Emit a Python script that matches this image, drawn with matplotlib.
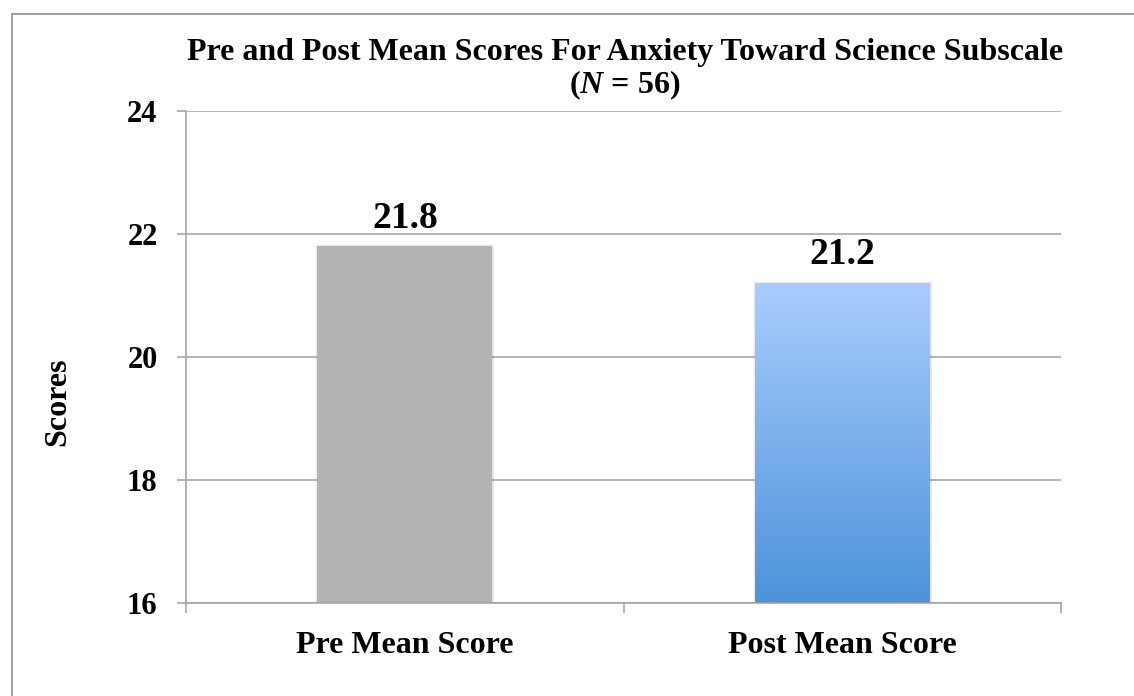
import numpy as np
import matplotlib
matplotlib.use("Agg")
import matplotlib.pyplot as plt
from matplotlib.lines import Line2D
from matplotlib.colors import LinearSegmentedColormap

plt.rcParams['font.family'] = ['Liberation Serif', 'DejaVu Serif']
plt.rcParams['font.weight'] = 'bold'
plt.rcParams['mathtext.fontset'] = 'custom'
plt.rcParams['mathtext.it'] = 'Liberation Serif:italic:bold'
plt.rcParams['mathtext.rm'] = 'Liberation Serif:bold'

# data
categories = ['Pre Mean Score', 'Post Mean Score']
scores = [21.8, 21.2]
y_ticks = [16, 18, 20, 22, 24]
title_line1 = 'Pre and Post Mean Scores For Anxiety Toward Science Subscale'
title_line2 = '($N$ = 56)'

W, H = 1134, 696
fig = plt.figure(figsize=(W / 100, H / 100), dpi=100)

def fx(px):
    return px / W

def fy(py):
    return 1 - py / H

grid_col = '#a0a0a0'

# outer frame (top + left visible)
fig.add_artist(Line2D([fx(12), 1], [fy(14), fy(14)], transform=fig.transFigure,
                      color=grid_col, lw=1.4))
fig.add_artist(Line2D([fx(12), fx(12)], [fy(14), 0], transform=fig.transFigure,
                      color=grid_col, lw=1.4))

ax = fig.add_axes([fx(186), fy(603), fx(1061) - fx(186), fy(111) - fy(603)])
ax.set_xlim(-0.5, 1.5)
ax.set_ylim(16, 24)

x = np.arange(len(categories))
bars = ax.bar(x, [s - 16 for s in scores], bottom=16, width=0.4, zorder=3)

# gray bar solid, blue bar with vertical gradient
bars[0].set_facecolor('#b3b3b3')
bars[0].set_edgecolor('none')
blue = LinearSegmentedColormap.from_list('b', ['#4c93da', '#a9cdfd'])
b = bars[1]
b.set_facecolor('none')
b.set_edgecolor('none')
grad = np.linspace(0, 1, 256).reshape(-1, 1)
im = ax.imshow(grad, cmap=blue, origin='lower', aspect='auto', zorder=3,
               extent=[b.get_x(), b.get_x() + b.get_width(), 16, 16 + b.get_height()])
im.set_clip_path(b)
ax.set_xlim(-0.5, 1.5)
ax.set_ylim(16, 24)

# faint shadow around the bars
for r in bars:
    for k, a in [(3, 0.03), (2, 0.04), (1, 0.05)]:
        ax.bar(r.get_x() + r.get_width() / 2, r.get_height(), bottom=16,
               width=r.get_width(), color='none', edgecolor='black',
               linewidth=k, alpha=a, zorder=2.5)

for xi, s in zip(x, scores):
    ax.annotate(f'{s:.1f}', (xi, s), xytext=(0, 13.5), textcoords='offset points',
                ha='center', va='baseline', fontsize=27, fontweight='bold', zorder=4)

ax.yaxis.grid(True, color=grid_col, lw=1.1, zorder=0)
ax.set_axisbelow(True)
for side in ['top', 'right']:
    ax.spines[side].set_visible(False)
for side in ['left', 'bottom']:
    ax.spines[side].set_color(grid_col)
    ax.spines[side].set_linewidth(1.1)
    ax.spines[side].set_zorder(4)

ax.set_yticks(y_ticks)
ax.set_yticklabels([str(t) for t in y_ticks])
ax.tick_params(axis='y', length=6.5, width=1.1, color=grid_col, pad=14, labelsize=22)

ax.set_xticks(x)
ax.set_xticklabels(categories)
ax.set_xticks([-0.5, 0.5, 1.5], minor=True)
ax.tick_params(axis='x', which='major', length=0, pad=20, labelsize=23)
ax.tick_params(axis='x', which='minor', length=7.2, width=1.1, color=grid_col)

fig.text(fx(58), fy(402), 'Scores', rotation=90, ha='center', va='center',
         fontsize=23, fontweight='bold')

fig.text(fx(625), fy(60), title_line1, ha='center', va='baseline',
         fontsize=23, fontweight='bold')
fig.text(fx(625), fy(93), title_line2, ha='center', va='baseline',
         fontsize=23, fontweight='bold')

fig.savefig('out.png', dpi=100)
